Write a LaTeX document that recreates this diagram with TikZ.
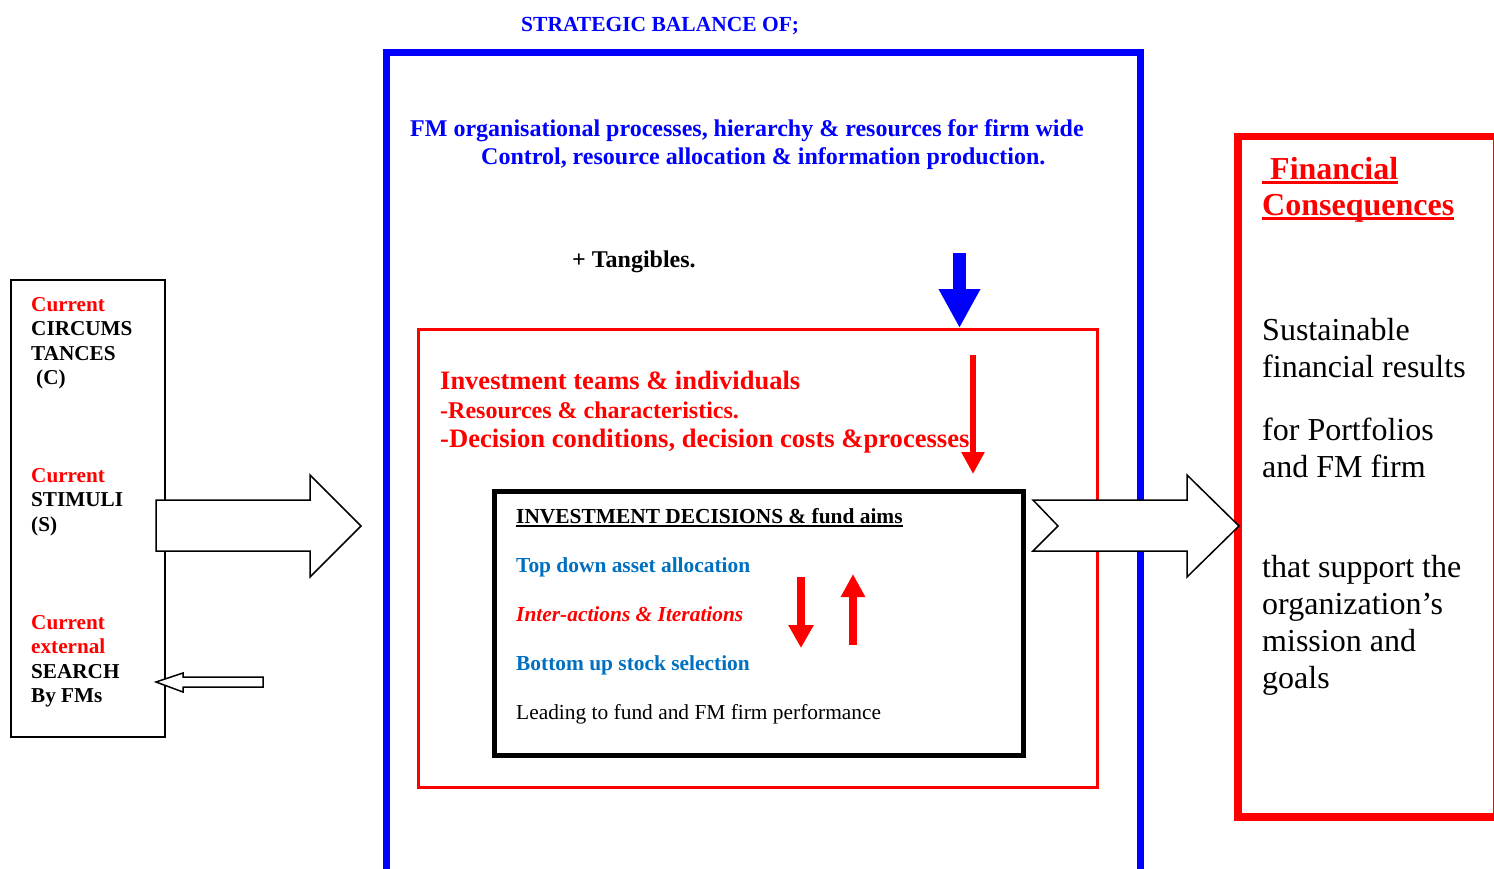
\documentclass[tikz,border=0pt]{standalone}
\usepackage{fontspec}
\setmainfont{Liberation Serif}
\usetikzlibrary{arrows.meta}
\definecolor{fmblue}{RGB}{0,0,255}
\definecolor{fmred}{RGB}{255,0,0}
\definecolor{tdblue}{RGB}{0,112,192}
\newcommand{\fs}[2]{\fontsize{#1pt}{#2pt}\selectfont}
\newsavebox{\ulbox}
% underline: depth of the bar, thickness, text
\newcommand{\ulbar}[3]{\sbox{\ulbox}{#3}\rlap{\rule[-#1]{\wd\ulbox}{#2}}\usebox{\ulbox}}
\tikzset{fcp/.style={
  x=1pt,
  y=-1pt
}}
\tikzset{txn/.style={
  inner sep=0pt,
  anchor=base west,
  align=left,
}}
\tikzset{bka/.style={
  draw,
  fill=white,
  line width=1.5pt,
  line join=miter,
}}
\tikzset{tka/.style={
  line width=#1,
  -{Triangle[width=3*#1,length=3*#1]},
}}

\begin{document}
\begin{tikzpicture}[fcp]
    \useasboundingbox (0,0) rectangle (1494,869);

    %% Frames
    \draw[fmblue,line width=7pt] (386.5,52.5) rectangle (1140,880);
    \draw[fmred,line width=2.5pt] (418.5,329.5) rectangle (1097.5,787.5);
    \draw[line width=5pt] (494.5,491.5) rectangle (1023.5,755.5);
    \draw[line width=2pt] (11,280) rectangle (165,737);
    \draw[fmred,line width=7.5pt] (1238,136.5) rectangle (1497,817);

    %% Strategic balance
    \node[txn,fmblue,font=\bfseries\fs{21.5}{25}] (ttl) at (521,32) {STRATEGIC BALANCE OF;};
    \node[txn,fmblue,font=\bfseries\fs{24}{28}] (org) at (410,165)
      {FM organisational processes, hierarchy \& resources for firm wide\\
       \hspace*{71pt}Control, resource allocation \& information production.};
    \node[txn,font=\bfseries\fs{24}{27}] (tng) at (572,268) {+ Tangibles.};

    % Teams
    \node[txn,fmred,font=\bfseries\fs{26.5}{29}] (inv) at (440,389) {Investment teams \& individuals};
    \node[txn,fmred,font=\bfseries\fs{24}{29}] (res) at (440,418) {-Resources \& characteristics.};
    \node[txn,fmred,font=\bfseries\fs{26.6}{29}] (dec) at (440,447) {-Decision conditions, decision costs \&processes};

    % Decisions
    \node[txn,font=\bfseries\fs{21.4}{25}] (idc) at (516,523) {\ulbar{3.5pt}{1.5pt}{INVESTMENT DECISIONS \& fund aims}};
    \node[txn,tdblue,font=\bfseries\fs{21.4}{25}] (tda) at (516,572) {Top down asset allocation};
    \node[txn,fmred,font=\bfseries\itshape\fs{21.4}{25}] (iai) at (516,621) {Inter-actions \& Iterations};
    \node[txn,tdblue,font=\bfseries\fs{21.4}{25}] (bus) at (516,670) {Bottom up stock selection};
    \node[txn,font=\fs{21.4}{25}] (lfp) at (516,719) {Leading to fund and FM firm performance};

    %% Left box
    \node[txn,font=\bfseries\fs{21.2}{24.5}] (cir) at (31,384.5)
      {\textcolor{fmred}{Current}\\CIRCUMS\\TANCES\\\hspace*{5pt}(C)};
    \node[txn,font=\bfseries\fs{21.2}{24.5}] (stm) at (31,531)
      {\textcolor{fmred}{Current}\\STIMULI\\(S)};
    \node[txn,font=\bfseries\fs{21.2}{24.5}] (src) at (31,702.5)
      {\textcolor{fmred}{Current}\\\textcolor{fmred}{external}\\SEARCH\\By FMs};

    %% Right box
    \node[txn,fmred,font=\bfseries\fs{32}{36}] (fin) at (1262,216)
      {\ulbar{4.5pt}{3pt}{\hspace*{8pt}Financial}\\\ulbar{4.5pt}{3pt}{Consequences}};
    \node[txn,font=\fs{32}{37}] (sus) at (1262,377) {Sustainable\\financial results};
    \node[txn,font=\fs{32}{37}] (prt) at (1262,477) {for Portfolios\\and FM firm};
    \node[txn,font=\fs{32}{37}] (msn) at (1262,688)
      {that support the\\organization’s\\mission and\\goals};

    %% Block arrows
    \draw[bka] (156,500) -- (310,500) -- (310,475) -- (361,526)
      -- (310,577) -- (310,551) -- (156,551) -- cycle;
    \draw[bka] (263,677) -- (183,677) -- (183,673) -- (156,682)
      -- (183,692) -- (183,687) -- (263,687) -- cycle;
    \draw[bka] (1033,500) -- (1187,500) -- (1187,475) -- (1239,526)
      -- (1187,577) -- (1187,551) -- (1033,551) -- (1058,526) -- cycle;

    % Thick arrows
    \coordinate (bt) at (959.5,253);
    \coordinate (bh) at (959.5,328);
    \draw[fmblue,tka=13pt] (bt) -- (bh);
    \coordinate (rt) at (973,355);
    \coordinate (rh) at (973,474);
    \draw[fmred,line width=6pt,-{Triangle[width=22pt,length=22pt]}] (rt) -- (rh);
    \coordinate (dt) at (801,577);
    \coordinate (dh) at (801,648);
    \draw[fmred,line width=8pt,-{Triangle[width=24pt,length=23pt]}] (dt) -- (dh);
    \coordinate (ut) at (853,645);
    \coordinate (uh) at (853,574);
    \draw[fmred,line width=8pt,-{Triangle[width=23pt,length=23pt]}] (ut) -- (uh);

  \end{tikzpicture}
\end{document}
